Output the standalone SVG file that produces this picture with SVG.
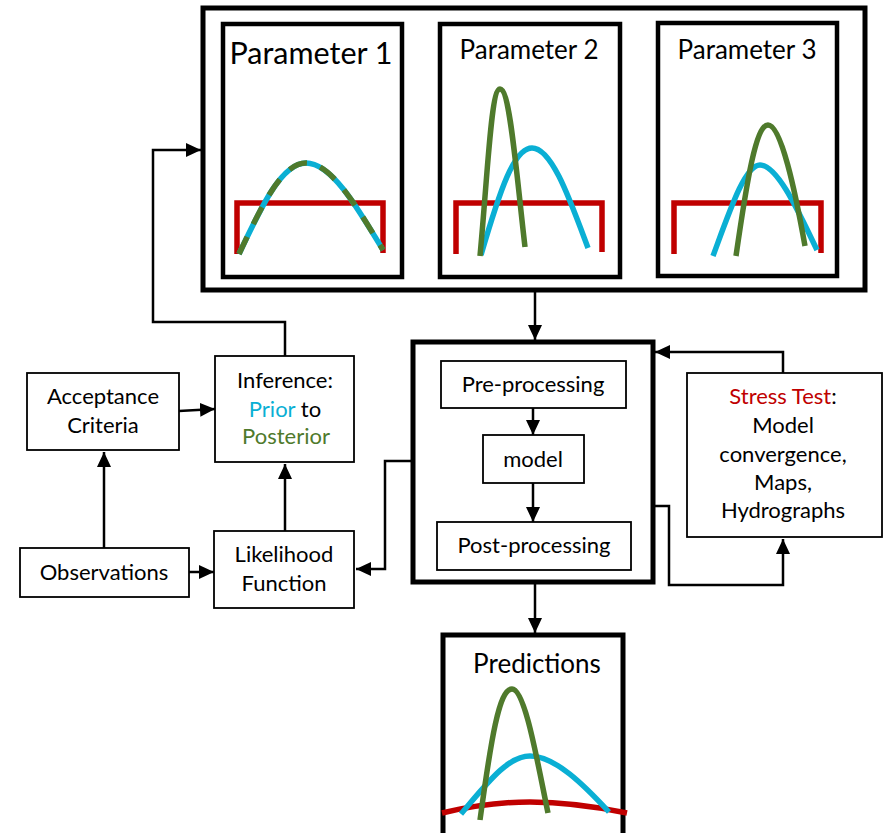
<svg xmlns="http://www.w3.org/2000/svg" width="885" height="833" viewBox="0 0 885 833">
  <style>
    .frame { fill: #fff; stroke: #000; stroke-width: 5; }
    .panel { fill: #fff; stroke: #000; stroke-width: 4.5; }
    .box { fill: #fff; stroke: #000; stroke-width: 1.8; }
    .lbl { font-family: Lato, "Liberation Sans", sans-serif; font-size: 22px; fill: #000; text-anchor: middle; }
    .title { font-family: Lato, "Liberation Sans", sans-serif; font-size: 26px; fill: #000; text-anchor: middle; }
    .big { font-size: 30.5px; }
    .wire { fill: none; stroke: #000; stroke-width: 2.5; }
    .c { fill: none; stroke-width: 5.5; stroke-linecap: butt; stroke-linejoin: miter; }
    .red { stroke: #C00000; }
    .blue { stroke: #0AAFD4; }
    .green { stroke: #4F7A2C; }
    .tblue { fill: #0AAFD4; }
    .tgreen { fill: #4F7A2C; }
    .tred { fill: #C00000; }
  </style>
  <defs>
    <marker id="arrow" markerUnits="userSpaceOnUse" markerWidth="16" markerHeight="16" viewBox="0 0 16 16" refX="15" refY="8" orient="auto">
      <path d="M0,1 L15,8 L0,15 Z" fill="#000"/>
    </marker>
  </defs>

  <rect width="885" height="833" fill="#fff"/>

  <!-- parameter panels -->
  <g id="parameters">
    <rect class="frame" x="203" y="8" width="662" height="282"/>
    <g id="param1">
      <rect class="panel" x="223" y="24" width="179" height="253"/>
      <text class="title big" x="311" y="64">Parameter 1</text>
      <path class="c red" d="M237,254 V203 H383 V253"/>
      <path class="c blue" d="M239,254 C262,205 282,163 306,163 C331,163 356,205 383,250"/>
      <path class="c green" stroke-dasharray="19,14" d="M239,254 C262,205 282,163 306,163 C331,163 356,205 383,250"/>
    </g>
    <g id="param2">
      <rect class="panel" x="440" y="24" width="180" height="253"/>
      <text class="title" x="529" y="59">Parameter 2</text>
      <path class="c red" d="M456,254 V203 H602 V252"/>
      <path class="c blue" d="M481,255 C500,190 514,148 532,148 C552,148 570,200 588,248"/>
      <path class="c green" d="M480,256 C488,170 491,89 500,89 C510,89 516,170 525,247"/>
    </g>
    <g id="param3">
      <rect class="panel" x="658" y="23" width="179" height="253"/>
      <text class="title" x="747" y="59">Parameter 3</text>
      <path class="c red" d="M674,254 V203 H821 V253"/>
      <path class="c blue" d="M713,256 C730,210 745,165 760,165 C778,165 800,215 817,250"/>
      <path class="c green" d="M736,256 C747,180 756,125 768,125 C781,125 795,190 805,246"/>
    </g>
  </g>

  <!-- model chain -->
  <g id="workflow">
    <rect class="frame" x="413" y="342" width="240" height="240"/>
    <g id="preprocessing">
      <rect class="box" x="441" y="361" width="185" height="47"/>
      <text class="lbl" x="533" y="392">Pre-processing</text>
    </g>
    <g id="model">
      <rect class="box" x="483" y="435" width="101" height="48"/>
      <text class="lbl" x="533" y="467">model</text>
    </g>
    <g id="postprocessing">
      <rect class="box" x="437" y="522" width="194" height="48"/>
      <text class="lbl" x="534" y="553">Post-processing</text>
    </g>
  </g>

  <g id="stress-test">
    <rect class="box" x="687" y="373" width="195" height="164"/>
    <text class="lbl" x="783" y="404"><tspan class="tred">Stress Test</tspan>:</text>
    <text class="lbl" x="783" y="433">Model</text>
    <text class="lbl" x="783" y="462">convergence,</text>
    <text class="lbl" x="783" y="490">Maps,</text>
    <text class="lbl" x="783" y="518">Hydrographs</text>
  </g>

  <g id="acceptance">
    <rect class="box" x="27" y="373" width="152" height="77"/>
    <text class="lbl" x="103" y="404">Acceptance</text>
    <text class="lbl" x="103" y="433">Criteria</text>
  </g>

  <g id="inference">
    <rect class="box" x="215" y="356" width="139" height="106"/>
    <text class="lbl" x="285" y="388">Inference:</text>
    <text class="lbl" x="285" y="417"><tspan class="tblue">Prior</tspan> to</text>
    <text class="lbl tgreen" x="286" y="444">Posterior</text>
  </g>

  <g id="observations">
    <rect class="box" x="20" y="548" width="169" height="49"/>
    <text class="lbl" x="104" y="580">Observations</text>
  </g>

  <g id="likelihood">
    <rect class="box" x="214" y="531" width="140" height="77"/>
    <text class="lbl" x="284" y="562">Likelihood</text>
    <text class="lbl" x="284" y="591">Function</text>
  </g>

  <g id="predictions">
    <rect class="frame" x="443" y="635" width="180" height="210"/>
    <text class="title" x="537" y="673">Predictions</text>
    <path class="c red" d="M442,813 C480,804 508,802 530,802 C560,802 598,807 627,813"/>
    <path class="c blue" d="M461,814 C488,782 508,756 530,756 C555,756 584,785 609,812"/>
    <path class="c green" d="M480,820 C491,740 499,689 512,689 C525,689 537,760 548,813"/>
  </g>

  <!-- connectors -->
  <g id="connectors">
    <path class="wire" marker-end="url(#arrow)" d="M535,290 V340"/>
    <path class="wire" marker-end="url(#arrow)" d="M533,408 V435"/>
    <path class="wire" marker-end="url(#arrow)" d="M533,483 V522"/>
    <path class="wire" marker-end="url(#arrow)" d="M535,582 V633"/>
    <path class="wire" marker-end="url(#arrow)" d="M783,373 V352 H655"/>
    <path class="wire" marker-end="url(#arrow)" d="M653,506 H669 V585 H783 V539"/>
    <path class="wire" marker-end="url(#arrow)" d="M413,461 H385 V569 H356"/>
    <path class="wire" marker-end="url(#arrow)" d="M285,356 V322 H153 V150 H201"/>
    <path class="wire" marker-end="url(#arrow)" d="M179,411 L215,409"/>
    <path class="wire" marker-end="url(#arrow)" d="M104,548 V452"/>
    <path class="wire" marker-end="url(#arrow)" d="M189,572 H214"/>
    <path class="wire" marker-end="url(#arrow)" d="M285,531 V464"/>
  </g>
</svg>
